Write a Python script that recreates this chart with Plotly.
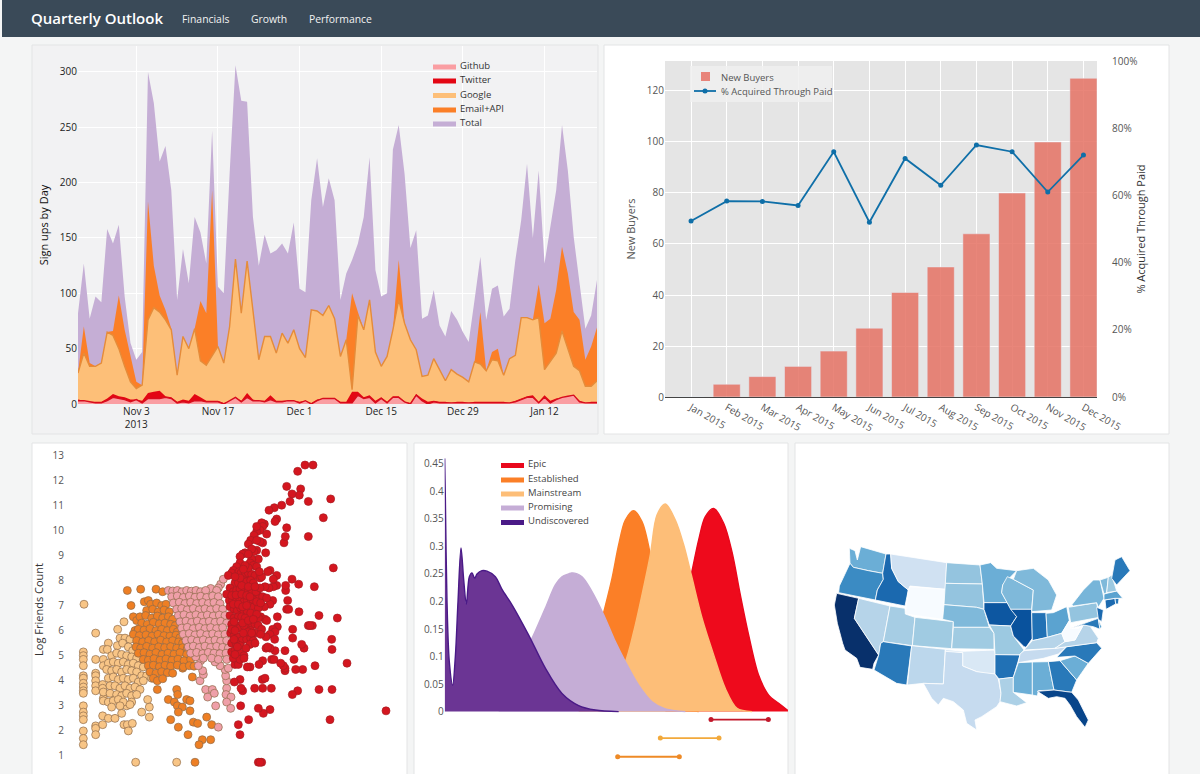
import pandas as pd
import plotly.graph_objects as go
from plotly.colors import sample_colorscale

W, H = 1200, 774
def fx(p): return p / W
def fy(p): return 1 - p / H

FONT = "Open Sans"

# ---------- chart 1: sign ups by day (cumulative heights)
days = pd.date_range("2013-10-24", periods=90).strftime("%Y-%m-%d").tolist()
total = [82,127,77,97,92,158,145,162,97,55,40,47,300,272,219,233,193,94,140,109,169,155,127,247,106,100,208,306,274,273,
         169,125,153,136,139,145,136,164,104,101,184,222,178,204,184,94,118,130,145,169,223,121,97,100,230,252,208,141,157,77,
         80,103,71,61,84,76,65,56,94,133,76,104,107,79,86,130,166,217,150,211,127,160,193,252,211,151,109,68,80,112]
email = [28,70,37,34,37,65,66,98,67,43,20,17,183,125,98,85,68,26,61,50,68,93,82,193,52,37,70,131,82,129,
         85,40,61,61,46,64,55,67,50,42,85,84,80,89,77,43,58,100,83,67,94,47,34,43,67,130,73,58,49,25,
         26,41,31,21,31,27,24,20,38,83,30,47,50,26,41,44,78,78,76,108,73,77,103,142,118,83,76,40,52,69]
google = [28,46,34,34,37,65,62,50,34,20,14,17,76,87,83,76,67,26,61,50,68,39,35,44,52,37,70,131,82,129,
          85,40,61,61,46,64,55,67,50,42,85,84,80,89,77,43,58,13,80,67,94,47,34,43,67,94,73,58,49,25,
          26,41,31,21,31,27,24,20,38,36,30,40,39,26,41,44,78,78,76,78,31,38,46,66,50,34,30,16,16,21]
twitter = [4,3,2,2,2,5,9,7,6,4,4,3,10,11,12,7,6,2,4,3,9,6,3,3,3,1,3,6,3,10,
           4,3,3,8,3,3,3,3,2,3,1,4,5,5,5,2,2,11,11,6,8,3,6,2,7,7,2,1,9,5,
           2,3,2,2,1,2,2,1,2,2,2,2,2,2,1,3,5,7,8,2,8,3,5,6,7,8,3,1,2,2]
github = [3,3,2,1,1,3,6,5,4,2,4,1,5,5,5,6,5,1,2,1,3,3,2,2,2,0,3,6,2,6,
          3,3,2,4,2,2,3,3,1,3,0,3,5,5,5,1,1,1,8,5,6,1,5,1,6,6,2,0,8,3,
          0,2,1,1,1,1,1,1,1,1,1,1,1,1,1,2,4,6,6,1,6,1,4,6,7,8,2,1,1,1]
tick_days = ["2013-11-03","2013-11-17","2013-12-01","2013-12-15","2013-12-29","2014-01-12"]
tick_day_labels = ["Nov 3<br>2013","Nov 17","Dec 1","Dec 15","Dec 29","Jan 12"]
signup_legend = ["Github","Twitter","Google","Email+API","Total"]
signup_colors = ["#fa9ea2","#e30613","#fdbf78","#fb7f27","#c5aed5"]

# ---------- chart 2: buyers
months = ["Jan 2015","Feb 2015","Mar 2015","Apr 2015","May 2015","Jun 2015","Jul 2015","Aug 2015","Sep 2015","Oct 2015","Nov 2015","Dec 2015"]
new_buyers = [0,5,8,12,18,27,41,51,64,80,100,125]
pct_paid = [52.4,58.3,58.2,57,73,52,71,63,75,73,61,72]

# ---------- chart 3: scatter of friends count
mainstream_pts = [(1.62,7.05),(1.97,5.9),(2.82,6.35),(2.63,6.05),(2.35,5.5),(2.2,5.25),(2.32,5.25),(1.6,5.15),(1.6,5),(1.6,4.85),(1.6,4.6),(1.6,4.2),(1.6,4.1),(1.6,3.9),(1.6,3.75),(1.6,3.6),(1.6,3.5),(1.6,3),(1.6,2.75),(1.6,2.6),(1.6,2.45),(1.6,2),(1.6,1.7),(1.6,1.45),
 (1.97,4.85),(1.97,4.3),(1.97,4.2),(1.97,4),(1.97,3.8),(1.97,3.6),(1.97,2.2),(1.97,2.1),(1.97,1.85),(2.2,4.85),(2.2,4.6),(2.18,3.85),(2.18,3.7),(2.2,3.3),(2.2,3.2),(2.18,2.6),(2.18,2.25),(2.35,2.5),(2.55,2.5),(2.75,2.7),(2.82,2.25),(2.92,2.25),(3.07,2.3),(2.95,2),(3.35,2.75),(3.58,2.55),(3.58,2.95),(3.53,3.25),(3.17,0.75),(4.4,0.75),(2.9,3),
 (2.7,5.7),(2.85,5.7),(3.0,5.65),(2.62,5.4),(2.78,5.5),(2.95,5.35),(3.08,5.2),(2.45,5),(2.6,5.1),(2.75,5.05),(2.9,5),(3.05,4.95),(3.2,4.9),(2.35,4.7),(2.5,4.75),(2.65,4.7),(2.8,4.75),(2.95,4.65),(3.1,4.7),(3.25,4.6),(3.4,4.55),(2.3,4.45),(2.45,4.4),(2.6,4.45),(2.75,4.35),(2.9,4.45),(3.05,4.4),(3.2,4.35),(3.35,4.2),(3.5,4.2),(3.65,4.1),(2.35,4.1),(2.5,4.15),(2.65,4.05),(2.8,4.1),(2.95,4.05),(3.1,4.1),(3.25,3.95),(3.4,4),(2.4,3.8),(2.55,3.8),(2.7,3.7),(2.85,3.8),(3.0,3.7),(3.15,3.75),(3.3,3.65),(2.2,3.55),(2.4,3.5),(2.6,3.45),(2.75,3.4),(2.9,3.5),(3.05,3.4),(3.2,3.45),(2.35,3.15),(2.5,3.2),(2.65,3.25),(2.8,3.15),(3.05,3.15),(2.45,2.95),(2.7,3),(3.0,3.05)]
established_pts = [(2.92,7.6),(3.32,7.65),(3.78,7.65),(3.98,7.55),(3.03,7),(3.43,7.15),(3.55,7.2),(3.1,6.55),(3.2,6.4),(3.15,6.0),(3.25,6.05),(3.82,3.65),(4.87,4.15),(4.58,4.5),(4.4,3.65),(4.43,3.45),(4.15,3.25),(4.33,3.15),(4.42,3),(4.7,3.25),(4.8,3.2),(4.57,2.95),(4.45,2.75),(4.8,2.8),(4.22,2.45),(4.45,2.15),(4.74,1.85),(4.9,2.35),(5.03,2.3),(5.3,2.55),(5.45,2.25),(5.17,1.65),(5.07,1.45),(5.42,1.65),(4.95,0.75),
 (3.62,7.05),(3.8,7.1),(3.95,7),(4.08,7.05),(3.5,6.8),(3.68,6.85),(3.85,6.75),(4.02,6.82),(4.18,6.75),(3.3,6.55),(3.47,6.6),(3.65,6.5),(3.82,6.58),(3.98,6.5),(4.15,6.55),(4.28,6.45),(3.35,6.3),(3.52,6.25),(3.7,6.33),(3.88,6.27),(4.05,6.3),(4.22,6.25),(4.36,6.2),(3.25,6.05),(3.42,6.02),(3.6,6.08),(3.78,6),(3.95,6.05),(4.12,6),(4.3,6.05),(4.42,5.95),(3.1,5.85),(3.28,5.8),(3.48,5.83),(3.66,5.78),(3.84,5.85),(4.02,5.8),(4.2,5.78),(4.38,5.82),(4.5,5.72),(3.2,5.6),(3.38,5.55),(3.56,5.6),(3.74,5.55),(3.92,5.62),(4.1,5.55),(4.28,5.6),(4.46,5.55),(4.58,5.5),(3.18,5.35),(3.32,5.3),(3.5,5.37),(3.68,5.3),(3.86,5.35),(4.04,5.32),(4.22,5.36),(4.4,5.3),(4.58,5.32),(4.72,5.3),(3.25,5.1),(3.42,5.12),(3.6,5.06),(3.78,5.12),(3.96,5.05),(4.14,5.1),(4.32,5.06),(4.5,5.12),(4.7,5.05),(3.4,4.85),(3.55,4.82),(3.72,4.88),(3.9,4.82),(4.08,4.87),(4.26,4.82),(4.44,4.86),(4.62,4.8),(4.82,4.85),(3.55,4.6),(3.7,4.62),(3.88,4.56),(4.05,4.62),(4.22,4.58),(4.42,4.62),(4.6,4.55),(4.78,4.6),(4.92,4.58),(3.6,4.35),(3.78,4.3),(3.95,4.36),(4.12,4.32),(4.28,4.3),(3.7,4.1),(3.82,4),(3.98,4.08)]
promising_pts = [(5.65,2.15),(5.9,3.7),(5.9,4.0),(5.87,4.2),(5.85,4.45),(5.95,4.5),(5.7,4.6),(5.55,4.75),(5.88,3.45),(6.03,3.35),(5.9,3.15),(6.02,2.9),(5.57,3),(5.33,3.35),(5.27,3.65),(5.47,3.65),(5.53,3.5),(5.1,4.0),(5.2,4.25),(5.18,4.4),(5.12,4.8),(5.05,4.6),(4.97,4.95),(5.72,7.85),(5.8,8.05),(5.65,7.7),(5.42,7.68),
 (4.15,7.6),(4.28,7.58),(4.42,7.6),(4.56,7.55),(4.7,7.6),(4.84,7.57),(4.98,7.6),(5.12,7.55),(5.27,7.6),(5.6,7.6),(4.25,7.35),(4.42,7.38),(4.6,7.32),(4.78,7.38),(4.95,7.33),(5.12,7.37),(5.3,7.32),(5.48,7.38),(5.65,7.35),(4.3,7.1),(4.48,7.13),(4.65,7.08),(4.82,7.13),(5.0,7.08),(5.18,7.12),(5.35,7.08),(5.52,7.12),(5.7,7.08),(4.4,6.85),(4.55,6.88),(4.72,6.83),(4.9,6.88),(5.08,6.83),(5.25,6.87),(5.42,6.83),(5.6,6.88),(5.78,6.85),(4.45,6.6),(4.62,6.63),(4.8,6.58),(4.98,6.63),(5.15,6.58),(5.32,6.62),(5.5,6.58),(5.68,6.62),(5.85,6.6),(4.5,6.35),(4.68,6.38),(4.85,6.33),(5.02,6.38),(5.2,6.33),(5.38,6.37),(5.55,6.33),(5.72,6.37),(5.9,6.3),(4.55,6.1),(4.72,6.13),(4.9,6.08),(5.08,6.13),(5.25,6.08),(5.42,6.12),(5.6,6.08),(5.78,6.12),(4.6,5.85),(4.78,5.88),(4.95,5.83),(5.12,5.88),(5.3,5.83),(5.48,5.87),(5.65,5.83),(5.85,5.85),(4.68,5.6),(4.85,5.63),(5.02,5.58),(5.2,5.63),(5.38,5.58),(5.55,5.62),(5.72,5.58),(5.9,5.6),(4.75,5.35),(4.9,5.38),(5.08,5.33),(5.25,5.38),(5.42,5.33),(5.6,5.37),(5.78,5.33),(5.95,5.3),(4.82,5.1),(5.0,5.13),(5.18,5.08),(5.35,5.13),(5.52,5.1),(5.7,5.08),(5.88,5.1),(5.2,4.9),(5.45,4.9),(5.65,4.85),(5.9,4.85)]
epic_pts = [(10.68,2.8),(9.0,2.45),(9.06,3.65),(8.67,3.65),(8.03,3.6),(7.87,3.45),(7.2,2.85),(7.0,2.7),(6.85,2.9),(6.56,2.45),(6.25,2.25),(6.3,1.85),(6.32,3),(6.38,3.6),(6.33,3.7),(6.3,4.05),(6.13,3.95),(6.74,3.7),(6.98,3.7),(7.24,3.7),(6.97,4.05),(7.05,4.1),(8.18,4.45),(7.97,4.45),(7.65,4.4),(7.65,4.5),(7.6,4.6),(7.52,4.7),(8.55,4.6),(9.51,4.7),(7.92,4.85),(7.25,4.85),(7.32,4.85),(6.98,4.8),(6.87,4.65),(6.6,4.55),(6.52,4.55),(6.15,4.65),(6.25,4.65),(9.06,5.25),(9.05,5.65),(8.22,5.3),(8.15,5.45),(7.65,5.2),(7.35,5.2),(7.2,5.3),(7.08,5.3),(7.13,5.35),(7.88,5.7),(7.88,6.05),(8.35,6.2),(8.47,6.2),(8.4,6.2),(8.67,6.6),(9.22,6.5),(8.07,6.75),(7.42,6.55),(7.42,6.15),(7.28,6.05),(7.35,5.95),(7.2,5.85),(7.34,5.65),(7.7,6.85),(7.76,6.85),(7.73,7.2),(7.28,7.2),(7.2,7.05),(7.03,6.95),(7.67,7.6),(7.67,7.8),(7.86,8.05),(8.06,7.85),(8.53,7.75),(9.1,8.5),(7.4,7.8),(7.3,7.75),(7.17,7.7),(7.05,7.75),(7.4,8.2),(7.3,8.05),(7.2,8.4),(7.13,8.35),(7.62,9.5),(7.66,9.75),(7.7,10.1),(8.35,9.75),(8.8,10.5),(9.02,11.25),(8.35,11.15),(8.12,11.65),(8.08,11.4),(7.86,11.45),(7.8,11.15),(7.7,11.75),(7.55,11),(7.33,10.9),(7.17,10.8),(7.4,10.45),(7.35,10.35),(7.03,10.25),(8.03,12.35),(8.25,12.6),(8.49,12.6),(6.85,0.75),(6.95,0.75),(6.9,0.75),
 (6.95,10.3),(6.98,10.15),(6.9,10),(6.8,9.95),(6.72,9.8),(7.1,9.85),(6.98,9.5),(6.62,9.6),(6.55,9.45),(6.45,9.1),(6.38,9.05),(6.3,8.95),(6.8,9.2),(6.72,9.15),(6.85,8.85),(7.07,9.1),(6.65,8.85),(6.3,8.7),(6.2,8.55),(6.1,8.4),(6.05,8.3),(5.95,8.2),(6.6,8.7),(6.7,8.6),(6.8,8.55),(6.27,8.35),(6.33,8.3),(6.45,8.2),(6.55,8.3),(6.65,8.25),(6.75,8.2),(6.4,8),(6.5,7.95),(6.62,8),(6.7,7.9),(6.9,8.1),(6.95,8.15),(6.15,7.9),(6.25,7.9),(6.0,7.7),(6.1,7.55),(6.2,7.6),(6.3,7.65),(6.45,7.6),(6.55,7.6),(6.65,7.5),(6.75,7.35),(6.85,7.4),(6.98,7.35),(5.9,7.45),(5.98,7.2),(6.08,7.2),(6.2,7.25),(6.3,7.25),(6.42,7.15),(6.52,7.2),(6.62,7.1),(6.72,6.95),(6.85,6.9),(6.0,6.95),(6.12,6.85),(6.22,6.8),(6.32,6.9),(6.42,6.75),(6.52,6.75),(6.62,6.7),(6.92,6.55),(7.05,6.45),(6.0,6.6),(6.12,6.5),(6.25,6.55),(6.35,6.55),(6.45,6.5),(6.6,6.3),(6.75,6.25),(6.05,6.25),(6.2,6.2),(6.3,6.1),(6.5,6.05),(6.62,6),(6.75,5.9),(6.02,5.9),(6.12,5.8),(6.25,5.75),(6.35,5.6),(6.5,5.65),(6.62,5.7),(6.7,5.6),(6.05,5.5),(6.18,5.5),(6.3,5.4),(6.6,5.45),(6.75,5.5),(6.05,5.15),(6.15,5.2),(6.3,5.1),(6.42,5),(6.1,4.9),(6.3,4.85),(6.42,4.9),
 (6.1,7.05),(6.25,7.05),(6.38,6.95),(6.5,7.0),(6.68,7.25),(6.8,7.15),(6.92,7.1),(7.1,7.3),(6.05,7.4),(6.18,7.42),(6.35,7.45),(6.5,7.4),(6.6,7.35),(6.78,7.55),(6.9,7.7),(6.35,7.8),(6.55,7.75),(6.75,7.75),(6.3,8.1),(6.15,8.15),(6.55,8.5),(6.45,8.6),(6.4,8.45),(6.88,8.35),(6.9,9.55),(6.8,9.6),(6.65,9.25),(6.55,9.05),(6.8,10.15),(6.05,6.05),(6.15,6.0),(6.42,6.2),(6.12,6.35),(6.38,6.3),(6.85,6.5),(6.8,6.65),(6.55,5.95),(6.4,5.9),(6.55,6.4),(6.7,6.45),(6.12,5.65),(6.22,5.35),(6.15,5.05),(6.48,5.3),(6.65,5.9),(6.85,6.2),(6.95,6.05),(7.1,6.4),(7.08,5.75),(6.92,5.85)]
friend_ticks = [1,2,3,4,5,6,7,8,9,10,11,12,13]

# ---------- chart 4: density curves
und_x = [0.98,1.0,1.05,1.12,1.22,1.3,1.38,1.47,1.55,1.63,1.72,1.8,1.88,1.95,2.1,2.25,2.5,2.7,3.0,3.5,4.0,4.5,5.0,5.5,6.2]
und_y = [0.46,0.39,0.2,0.09,0.048,0.1,0.2,0.297,0.24,0.195,0.245,0.252,0.242,0.25,0.256,0.255,0.245,0.222,0.194,0.139,0.079,0.033,0.011,0.003,0]
pro_x = [2.6,2.9,3.3,3.6,4.0,4.3,4.5,4.7,4.8,5.1,5.4,5.75,6.1,6.4,6.8,7.2,7.6,8.2]
pro_y = [0.006,0.05,0.097,0.133,0.188,0.23,0.245,0.25,0.252,0.245,0.218,0.176,0.127,0.091,0.048,0.018,0.005,0]
est_x = [5.0,5.4,5.75,6.0,6.2,6.4,6.65,6.9,7.15,7.4,7.8,8.2,8.6]
est_y = [0.018,0.097,0.18,0.242,0.303,0.348,0.365,0.345,0.285,0.18,0.06,0.006,0]
mai_x = [5.6,6.0,6.4,6.65,6.9,7.15,7.35,7.6,7.9,8.15,8.38,8.7,9.05,9.4,9.75,10.2]
mai_y = [0.009,0.042,0.09,0.145,0.212,0.285,0.357,0.377,0.348,0.303,0.248,0.17,0.103,0.042,0.006,0]
epi_x = [7.6,7.9,8.15,8.38,8.6,8.8,9.05,9.35,9.6,9.85,10.1,10.4,10.7,11.0,11.28]
epi_y = [0.024,0.109,0.194,0.25,0.312,0.354,0.369,0.342,0.29,0.212,0.139,0.066,0.03,0.015,0.002]
density_names = ["Epic","Established","Mainstream","Promising","Undiscovered"]
density_colors = ["#e9081c","#fb7f27","#fdbe78","#c5add6","#4a1a87"]
range_epic = [8.97,10.69]; range_mainstream = [7.45,9.21]; range_established = [6.17,8.02]
range_levels = [-0.0145,-0.048,-0.082]
density_ticks = [0,0.05,0.1,0.15,0.2,0.25,0.3,0.35,0.4,0.45]
density_tick_text = ["0","0.05","0.1","0.15","0.2","0.25","0.3","0.35","0.4","0.45"]

# ---------- chart 5: map (state shade and outline)
state_shade = {"CA":1.0,"FL":0.92,"IL":0.87,"IA":0.85,"ID":0.78,"ME":0.72,"AR":0.75,"IN":0.75,"AZ":0.72,"GA":0.72,"NC":0.72,"OR":0.65,"OH":0.55,"SC":0.5,"CT":0.78,"NJ":0.78,"MD":0.72,"RI":0.72,"MA":0.55,"DE":0.55,"WA":0.5,"NY":0.47,"MI":0.45,"WI":0.45,"MN":0.5,"AL":0.5,"MS":0.5,"PA":0.4,"NE":0.45,"ND":0.4,"SD":0.4,"CO":0.37,"KS":0.37,"MO":0.38,"UT":0.35,"VA":0.3,"VT":0.45,"NH":0.38,"NV":0.3,"LA":0.33,"KY":0.3,"TN":0.25,"TX":0.25,"NM":0.28,"MT":0.2,"OK":0.15,"WY":0.0,"WV":0.0}
state_outline = {
 "WA":[(148,55),(165,62),(172,90),(182,50),(258,72),(248,130),(205,122),(160,112),(150,100)],
 "OR":[(150,100),(160,112),(205,122),(248,130),(250,148),(232,180),(226,210),(175,200),(116,188),(118,168),(135,130)],
 "CA":[(110,190),(176,205),(163,265),(236,375),(222,400),(218,418),(180,412),(170,385),(135,360),(128,340),(112,280),(103,225)],
 "NV":[(176,205),(270,228),(250,335),(242,340),(236,375),(163,265)],
 "ID":[(258,72),(272,72),(275,115),(295,155),(325,180),(315,228),(226,210),(232,180),(250,148),(248,130)],
 "MT":[(272,72),(440,98),(436,178),(330,168),(325,180),(295,155),(275,115)],
 "WY":[(330,170),(436,178),(428,268),(316,252),(325,180)],
 "UT":[(270,228),(315,235),(316,252),(345,262),(337,347),(250,335)],
 "AZ":[(250,335),(335,348),(320,465),(290,460),(222,420),(236,375),(242,340)],
 "CO":[(345,262),(460,275),(455,356),(337,347)],
 "NM":[(335,347),(436,358),(430,462),(370,460),(322,465)],
 "ND":[(440,98),(540,105),(547,162),(436,160)],
 "SD":[(436,160),(547,162),(552,238),(530,232),(432,224)],
 "NE":[(432,224),(530,232),(552,238),(568,292),(460,292),(460,275),(428,268)],
 "KS":[(460,292),(568,292),(582,310),(582,358),(455,356)],
 "OK":[(436,358),(488,364),(582,360),(586,372),(585,432),(560,432),(530,425),(488,408),(488,368),(436,366)],
 "TX":[(436,364),(488,368),(488,408),(530,425),(585,432),(595,447),(603,490),(600,515),(590,530),(545,560),(525,570),(530,600),(500,580),(490,540),(460,515),(430,505),(415,525),(395,505),(370,460),(430,462)],
 "MN":[(540,105),(572,98),(590,115),(650,122),(608,165),(605,188),(622,218),(552,218),(547,162)],
 "IA":[(552,218),(622,218),(650,260),(632,288),(568,285),(552,238)],
 "MO":[(568,285),(632,288),(640,318),(672,360),(660,375),(585,374),(582,310)],
 "AR":[(585,374),(660,375),(640,442),(597,447),(585,432)],
 "LA":[(597,447),(640,442),(640,487),(680,518),(650,528),(600,515),(603,490)],
 "WI":[(622,140),(640,148),(700,180),(695,238),(632,238),(622,218),(605,188),(608,165)],
 "IL":[(632,238),(695,238),(697,325),(678,352),(672,350),(640,318),(632,288),(650,260)],
 "MI":[(650,122),(700,115),(745,150),(770,195),(755,240),(695,245),(700,180),(640,148)],
 "IN":[(695,248),(738,248),(742,322),(697,332)],
 "OH":[(738,250),(760,248),(800,230),(808,272),(785,310),(742,322)],
 "KY":[(672,360),(697,332),(742,322),(785,310),(795,335),(765,355)],
 "TN":[(660,372),(672,362),(765,355),(800,350),(775,372),(730,385),(655,398)],
 "MS":[(655,398),(697,396),(697,495),(668,490),(640,487),(640,442)],
 "AL":[(697,396),(745,395),(762,480),(715,482),(712,498),(697,495)],
 "GA":[(745,395),(780,392),(830,450),(815,487),(762,480)],
 "FL":[(712,484),(762,480),(815,487),(835,510),(865,570),(855,592),(830,560),(810,525),(795,505),(770,500),(745,505)],
 "SC":[(780,392),(825,378),(865,400),(830,450)],
 "NC":[(770,382),(800,350),(890,338),(905,355),(865,400),(825,378)],
 "VA":[(765,355),(795,335),(825,330),(850,285),(870,288),(895,325),(890,338),(800,350)],
 "WV":[(785,310),(808,272),(812,295),(835,295),(850,285),(825,330),(795,335)],
 "PA":[(805,232),(890,218),(898,262),(812,278)],
 "NY":[(815,225),(850,180),(880,150),(900,150),(912,205),(895,232),(890,218),(820,228)],
 "MD":[(812,295),(895,265),(900,298),(880,290),(850,285)],
 "DE":[(895,268),(905,290),(900,298)],
 "NJ":[(890,232),(910,240),(905,275),(895,268)],
 "CT":[(915,210),(945,205),(947,222),(918,238)],
 "RI":[(945,205),(957,205),(955,222),(947,222)],
 "MA":[(912,192),(950,183),(968,205),(945,205),(912,210)],
 "VT":[(900,150),(925,142),(920,188),(912,192)],
 "NH":[(925,142),(935,135),(950,183),(920,188)],
 "ME":[(935,145),(945,90),(965,80),(990,122),(950,165)],
}

fig = go.Figure()
X1 = dict(xaxis="x", yaxis="y")
for name, vals, col, lc in [("Total", total, signup_colors[4], signup_colors[4]),
                            ("Email+API", email, signup_colors[3], signup_colors[3]),
                            ("Google", google, signup_colors[2], "#e58c3a"),
                            ("Twitter", twitter, signup_colors[1], signup_colors[1]),
                            ("Github", github, signup_colors[0], "#d80d1d")]:
    fig.add_trace(go.Scatter(x=days, y=vals, name=name, mode="lines", fill="tozeroy", fillcolor=col,
                             line=dict(color=lc, width=1.4 if name in ("Google","Github") else 0), **X1))

fig.add_trace(go.Bar(x=months, y=new_buyers, name="New Buyers", marker=dict(color="#e67668", opacity=0.88), xaxis="x2", yaxis="y2"))
fig.add_trace(go.Scatter(x=months, y=pct_paid, name="% Acquired Through Paid", mode="lines+markers",
                         line=dict(color="#0f6fa8", width=1.8), marker=dict(size=5, color="#0f6fa8"), xaxis="x2", yaxis="y3"))

for name, pts, col in [("Mainstream", mainstream_pts, "#f8c586"), ("Established", established_pts, "#ee7f24"),
                       ("Promising", promising_pts, "#ef9fa8"), ("Epic", epic_pts, "#d4161f")]:
    fig.add_trace(go.Scatter(x=[p[0] for p in pts], y=[p[1] for p in pts], name=name, mode="markers",
                             marker=dict(size=8, color=col, line=dict(color="#8f6b4b" if name != "Epic" else "#a81c22", width=0.7)),
                             xaxis="x3", yaxis="y4"))

for name, xs, ys, col, fillc in [("Epic", epi_x, epi_y, "#e9081c", "#ee0a1c"),
                                 ("Established", est_x, est_y, "#fb7f27", "#fb7f27"),
                                 ("Mainstream", mai_x, mai_y, "#fdbe78", "#fdbe78"),
                                 ("Promising", pro_x, pro_y, "#c5add6", "#c5add6"),
                                 ("Undiscovered", und_x, und_y, "#4a1a87", "#6b3594")]:
    fig.add_trace(go.Scatter(x=xs, y=ys, name=name, mode="lines", fill="tozeroy", fillcolor=fillc,
                             line=dict(color=col, width=1.4, shape="spline", smoothing=0.9), xaxis="x4", yaxis="y5"))
for xs, lev, col in [(range_epic, range_levels[0], "#c2182b"), (range_mainstream, range_levels[1], "#f2a93b"), (range_established, range_levels[2], "#ee8a26")]:
    fig.add_trace(go.Scatter(x=xs, y=[lev, lev], mode="lines+markers", line=dict(color=col, width=1.8),
                             marker=dict(size=5, color=col), xaxis="x4", yaxis="y5"))

for st, pts in state_outline.items():
    col = sample_colorscale("Blues", [state_shade[st]])[0]
    fig.add_trace(go.Scatter(x=[p[0] for p in pts] + [pts[0][0]], y=[p[1] for p in pts] + [pts[0][1]], name=st, mode="lines", fill="toself",
                             fillcolor=col, line=dict(color="#ffffff", width=0.8), hoverinfo="name", xaxis="x5", yaxis="y6"))

PANEL = "#e3e4e5"
shapes = []
def rect(x0, y0, x1, y1, fill, line=None, layer="below"):
    shapes.append(dict(type="rect", xref="paper", yref="paper", x0=fx(x0), x1=fx(x1), y0=fy(y0), y1=fy(y1),
                       fillcolor=fill, line=dict(color=line or fill, width=1 if line else 0), layer=layer))
rect(0, 0, 1200, 774, "#f4f5f5")
rect(2, 0, 1200, 37, "#3a4a58")
rect(32, 45, 598, 434, "#f2f2f3", PANEL)
rect(604, 45, 1169, 434, "#ffffff", PANEL)
rect(32, 443, 407, 780, "#ffffff", PANEL)
rect(414, 443, 788, 780, "#ffffff", PANEL)
rect(795, 443, 1169, 780, "#ffffff", PANEL)
rect(665, 61, 1097, 397, "#e5e5e5")

annots = []
def text(x, y, s, size=10.5, color="#444", weight=400):
    annots.append(dict(xref="paper", yref="paper", x=fx(x - 2), y=fy(y), text=s, showarrow=False, xanchor="left", yanchor="middle",
                       font=dict(family=FONT, size=size, color=color, weight=weight)))
text(31, 18, "Quarterly Outlook", 15, "#ffffff", 600)
text(182, 19, "Financials", 10.4, "#f2f2f2")
text(251, 19, "Growth", 10.4, "#f2f2f2")
text(309, 19, "Performance", 10.4, "#f2f2f2")

# legends (spacing of the reference is tighter than a native legend allows)
for name, col, yy in zip(signup_legend, signup_colors, [67, 81, 95.5, 110, 124]):
    rect(433, yy - 2.5, 456, yy + 2.5, col, layer="above")
    text(460, yy - 1.5, name, 9.5, "#333")
for name, col, yy in zip(density_names, density_colors, [465.5, 480, 494, 508, 522.5]):
    rect(501, yy - 2.5, 524, yy + 2.5, col, layer="above")
    text(527.5, yy - 2, name, 9.5, "#444")
rect(690, 66, 832, 102, "rgba(240,240,240,0.85)", layer="above")
rect(701, 72, 710, 81, "#e8847a", layer="above")
text(721, 77, "New Buyers", 9.5, "#555")
shapes.append(dict(type="line", xref="paper", yref="paper", x0=fx(694), x1=fx(716), y0=fy(91), y1=fy(91), line=dict(color="#0f6fa8", width=1.8), layer="above"))
shapes.append(dict(type="circle", xref="paper", yref="paper", x0=fx(702.5), x1=fx(707.5), y0=fy(93.5), y1=fy(88.5), fillcolor="#0f6fa8", line=dict(width=0), layer="above"))
text(721, 91, "% Acquired Through Paid", 9.5, "#555")

tickf = dict(family=FONT, size=10, color="#555")
fig.update_layout(
    width=W, height=H, margin=dict(l=0, r=0, t=0, b=0), autosize=False, showlegend=False,
    paper_bgcolor="#f4f5f5", plot_bgcolor="rgba(0,0,0,0)", shapes=shapes, annotations=annots, bargap=0.24,
    font=dict(family=FONT),
    xaxis=dict(domain=[fx(78), fx(597)], range=["2013-10-24", "2014-01-21"], type="date", tickvals=tick_days, ticktext=tick_day_labels, automargin=False,
               showgrid=True, gridcolor="#ffffff", zeroline=False, tickfont=dict(family=FONT, size=10, color="#222"), ticks=""),
    yaxis=dict(domain=[fy(404), fy(46)], range=[0, 323.4], tickvals=[0,50,100,150,200,250,300], showgrid=True, gridcolor="#ffffff", zeroline=False, automargin=False,
               tickfont=dict(family=FONT, size=10, color="#222"), ticks="",
               title=dict(text="Sign ups by Day", font=dict(family=FONT, size=11, color="#111"), standoff=8)),
    xaxis2=dict(domain=[fx(665), fx(1097)], range=[-0.73, 11.38], type="category", tickangle=30, showgrid=True, gridcolor="#ffffff", zeroline=False, automargin=False,
                anchor="y2", tickfont=tickf, ticks="", showline=True, linecolor="#444", linewidth=1),
    yaxis2=dict(domain=[fy(397), fy(61)], range=[0, 131.76], anchor="x2", tickvals=[0,20,40,60,80,100,120], gridcolor="#ffffff", zeroline=False, automargin=False,
                tickfont=tickf, ticks="",
                title=dict(text="New Buyers", font=dict(family=FONT, size=11, color="#555"), standoff=8)),
    yaxis3=dict(domain=[fy(397), fy(61)], range=[0, 100], overlaying="y2", side="right", anchor="x2", tickvals=[0,20,40,60,80,100], automargin=False,
                ticktext=["0%","20%","40%","60%","80%","100%"], showgrid=False, zeroline=False, tickfont=tickf, ticks="outside", ticklen=12, tickcolor="rgba(0,0,0,0)",
                title=dict(text="% Acquired Through Paid", font=dict(family=FONT, size=11, color="#333"), standoff=0)),
    xaxis3=dict(domain=[fx(65), fx(405)], range=[1.05, 11.25], anchor="y4", showgrid=False, zeroline=False, showticklabels=False, ticks="", automargin=False),
    yaxis4=dict(domain=[0, fy(445)], range=[0.282, 13.4], anchor="x3", tickvals=friend_ticks, showgrid=False, zeroline=False, tickfont=tickf, ticks="", automargin=False,
                title=dict(text="Log Friends Count", font=dict(family=FONT, size=11, color="#333"), standoff=6)),
    xaxis4=dict(domain=[fx(444.67), fx(788)], range=[0.98, 11.28], anchor="y5", showgrid=False, zeroline=False, showticklabels=False, ticks="", automargin=False),
    yaxis5=dict(domain=[0, fy(458.3)], range=[-0.1133, 0.46], anchor="x4", tickvals=density_ticks, ticktext=density_tick_text, showgrid=False, zeroline=False, tickfont=tickf, ticks="", automargin=False),
    xaxis5=dict(domain=[fx(800), fx(1170)], range=[0, 1110], anchor="y6", visible=False, automargin=False),
    yaxis6=dict(domain=[fy(740), fy(530)], range=[630, 0], anchor="x5", visible=False, automargin=False),
)
fig.write_html("out.html", config={"displayModeBar": False}, post_script="document.body.style.margin='0';document.body.style.overflow='hidden';")
